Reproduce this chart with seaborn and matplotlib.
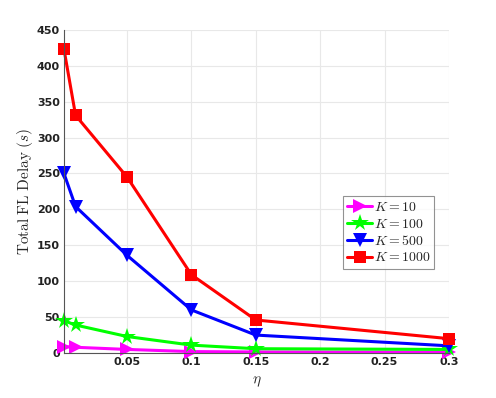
import matplotlib
matplotlib.use("Agg")
import matplotlib.pyplot as plt
import pandas as pd
import seaborn as sns

# data
eta = [0.001, 0.01, 0.05, 0.1, 0.15, 0.3]
k_labels = [r"$K = 10$", r"$K = 100$", r"$K = 500$", r"$K = 1000$"]
delay_k10 = [9, 8, 5, 2, 1.5, 1]
delay_k100 = [45, 39, 23, 11, 6, 5]
delay_k500 = [250, 204, 136, 60, 25, 10]
delay_k1000 = [423, 331, 245, 109, 46, 20]
colors = ["#ff00ff", "#00ff00", "#0000ff", "#ff0000"]
marks = [">", "*", "v", "s"]
msizes = [10, 13, 10, 8.5]

rows = []
for lab, vals in zip(k_labels, [delay_k10, delay_k100, delay_k500, delay_k1000]):
    for x, y in zip(eta, vals):
        rows.append({"eta": x, "delay": y, "K": lab})
df = pd.DataFrame(rows)

sns.set_theme(style="white")
plt.rcParams["mathtext.fontset"] = "cm"
plt.rcParams["font.family"] = ["DejaVu Sans"]

fig = plt.figure(figsize=(4.96, 3.98), dpi=100)
ax = fig.add_axes([0.129, 0.113, 0.776, 0.812])

sns.lineplot(data=df, x="eta", y="delay", hue="K", style="K",
             palette=dict(zip(k_labels, colors)),
             markers=dict(zip(k_labels, marks)), dashes=False,
             linewidth=2.2, markersize=8, markeredgewidth=0,
             ax=ax, legend=False)

# per-series marker size, markers not clipped at the axes edge
for line, ms in zip(ax.get_lines(), msizes):
    line.set_markersize(ms)
    line.set_clip_on(False)

ax.set_xlim(0.001, 0.3)
ax.set_ylim(0, 450)
ax.set_xticks([0.05, 0.1, 0.15, 0.2, 0.25, 0.3])
ax.set_xticklabels(["0.05", "0.1", "0.15", "0.2", "0.25", "0.3"])
ax.set_yticks(range(0, 451, 50))
ax.grid(True, color="#e8e8e8", linewidth=0.8)
ax.set_axisbelow(True)
for s in ["top", "right"]:
    ax.spines[s].set_visible(False)
for s in ["left", "bottom"]:
    ax.spines[s].set_color("#555555")
    ax.spines[s].set_linewidth(0.8)
ax.tick_params(axis="both", direction="in", length=3, color="#555555",
               labelsize=8, pad=3)
for t in ax.get_xticklabels() + ax.get_yticklabels():
    t.set_fontweight("bold")
    t.set_color("#222222")

ax.set_xlabel(r"$\eta$", fontsize=11, labelpad=5)
ax.set_ylabel(r"$\mathrm{Total\ FL\ Delay}\ (s)$", fontsize=11, labelpad=1)

leg = ax.legend(ax.get_lines(), k_labels, loc="upper left",
                bbox_to_anchor=(0.725, 0.486), fontsize=10,
                frameon=True, fancybox=False, borderpad=0.3, labelspacing=0.2,
                handlelength=1.8, handletextpad=0.1, borderaxespad=0)
leg.get_frame().set_edgecolor("#777777")
leg.get_frame().set_linewidth(0.8)

fig.savefig("out.png", dpi=100)
